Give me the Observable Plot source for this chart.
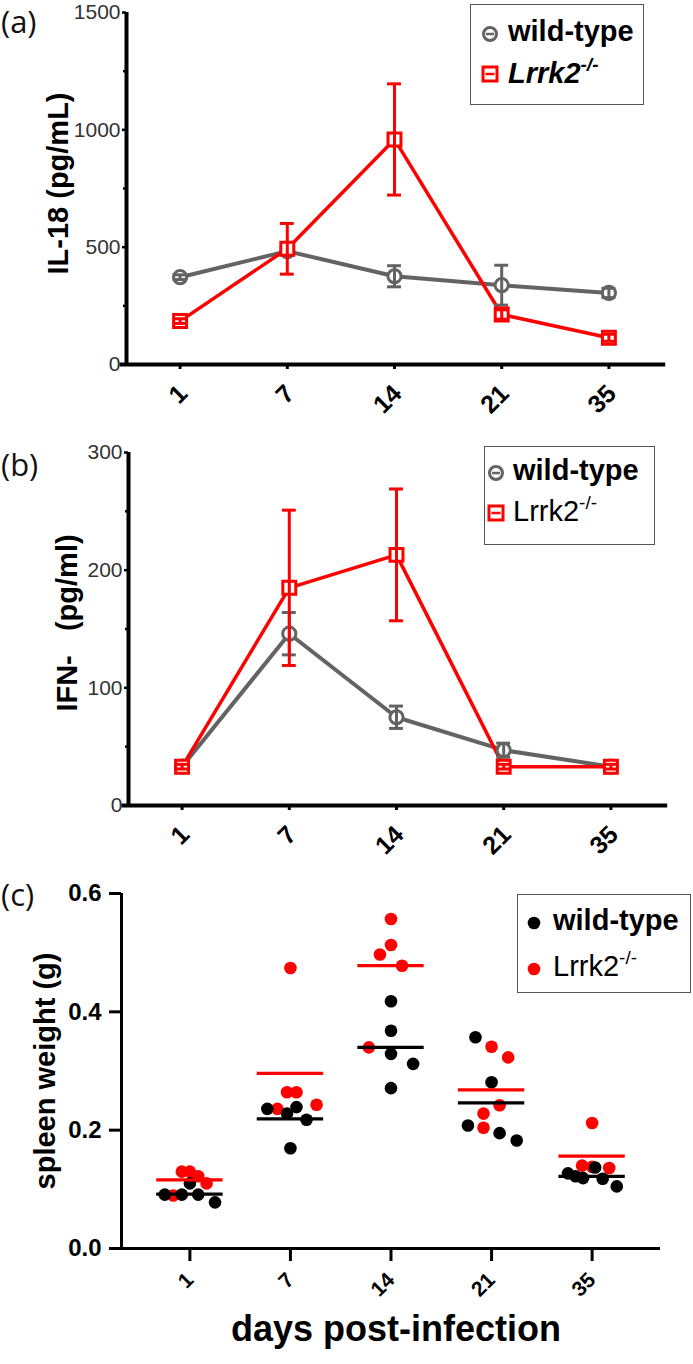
<!DOCTYPE html>
<html><head><meta charset="utf-8">
<script src="https://cdn.jsdelivr.net/npm/d3@7"></script>
<script src="https://cdn.jsdelivr.net/npm/@observablehq/plot@0.6"></script>
<style>
html,body{margin:0;padding:0;background:#fff;}
#wrap{position:relative;width:693px;height:1364px;overflow:hidden;font-family:"Liberation Sans",Arial,sans-serif;color:#000;}
.pl{position:absolute;left:0;}
.plabel{position:absolute;font-family:"Open Sans","Noto Sans",sans-serif;font-size:31px;line-height:normal;color:#111;}
.legend{position:absolute;border:1.5px solid #555;background:#fff;box-sizing:border-box;}
.mk{position:absolute;overflow:visible;}
.lt{position:absolute;white-space:nowrap;line-height:1;font-size:29px;}
.lt sup{font-size:19px;vertical-align:0;position:relative;top:-12px;}
</style>
</head><body>
<div id="wrap"></div>
<script>
const days = ["1", "7", "14", "21", "35"];
// (a) IL-18 (pg/mL): mean and error
const il18WT = [372, 483, 376, 338, 305];
const il18WTErr = [10, 15, 45, 85, 20];
const il18KO = [185, 493, 959, 213, 114];
const il18KOErr = [10, 108, 237, 20, 15];
// (b) IFN (pg/ml)
const ifnWT = [33, 146, 75, 47, 33];
const ifnWTErr = [2, 18, 9.5, 6, 2];
const ifnKO = [33, 185, 213, 33, 33];
const ifnKOErr = [2, 66, 56, 2, 2];
// (c) spleen weight (g), individual mice per day, with horizontal scatter (fraction of a day slot)
const spleenWT = [
  [0.091, 0.091, 0.110, 0.091, 0.078],
  [0.236, 0.228, 0.239, 0.2175, 0.1695],
  [0.418, 0.368, 0.329, 0.312, 0.271],
  [0.357, 0.281, 0.208, 0.195, 0.1825],
  [0.127, 0.122, 0.119, 0.137, 0.118, 0.105]
];
const spleenWTSpread = [
  [-0.25, -0.08, 0, 0.083, 0.25],
  [-0.23, -0.034, 0.06, 0.16, 0],
  [0, 0, 0, 0.22, 0],
  [-0.16, 0, -0.235, 0.08, 0.25],
  [-0.24, -0.165, -0.09, 0.03, 0.105, 0.245]
];
const spleenKO = [
  [0.0896, 0.130, 0.130, 0.122, 0.110],
  [0.474, 0.264, 0.264, 0.243, 0.236],
  [0.557, 0.513, 0.497, 0.478, 0.340],
  [0.341, 0.323, 0.242, 0.228, 0.204],
  [0.212, 0.140, 0.136, 0.138]
];
const spleenKOSpread = [
  [-0.165, -0.08, 0, 0.083, 0.166],
  [0, -0.034, 0.06, 0.26, -0.13],
  [0, 0, -0.11, 0.11, -0.22],
  [0, 0.165, 0.08, -0.08, -0.08],
  [0, -0.1, 0.17, 0.0]
];
const spleenWTMean = [0.092, 0.219, 0.340, 0.246, 0.122];
const spleenKOMean = [0.116, 0.296, 0.478, 0.268, 0.156];

const GRAY = "#636363", RED = "#ff0000";
const FONT = "Liberation Sans, Arial, sans-serif";
const idx = days.map((d, i) => i);
const ser = (v, e) => v.map((m, i) => ({i, v: m, lo: m - e[i], hi: m + e[i]}));
const caps = (s) => s.flatMap(d => [{i: d.i, y: d.lo}, {i: d.i, y: d.hi}]);

function linePanel(o) {
  const wt = ser(o.wt, o.wtErr), ko = ser(o.ko, o.koErr);
  return Plot.plot({
    width: 693, height: o.height,
    marginTop: o.mt, marginBottom: o.mb, marginLeft: o.ml, marginRight: o.mr,
    x: {type: "linear", domain: [-0.5, 4.5]},
    y: {domain: o.yDomain},
    style: {fontFamily: FONT, background: "transparent", overflow: "visible", color: "#000"},
    marks: [
      Plot.axisY({ticks: o.minor, tickFormat: () => "", tickSize: 3, strokeWidth: 2.5, label: null}),
      Plot.axisY({ticks: o.major, tickFormat: d => String(d), tickSize: 4, tickPadding: 2, strokeWidth: 2.5, fontSize: 21, fill: "#333", label: null}),
      Plot.axisX({ticks: idx, tickFormat: () => "", tickSize: 5, strokeWidth: 3, label: null}),
      Plot.axisX({ticks: idx, tickFormat: i => days[i], tickSize: 0, tickPadding: 25, tickRotate: -45, dx: 3, fontSize: 25, fontWeight: "bold", label: null}),
      Plot.ruleX([-0.5], {strokeWidth: 4, stroke: "#000"}),
      Plot.ruleY([o.yDomain[0]], {x1: () => -0.56, x2: () => 4.53, strokeWidth: 4, stroke: "#000"}),
      Plot.text([o.title], {text: d => d, frameAnchor: "left", textAnchor: "middle", rotate: -90, dx: o.tdx, dy: o.tdy, fontSize: 29, fontWeight: "bold", fill: "#000"}),
      Plot.line(wt, {x: "i", y: "v", stroke: GRAY, strokeWidth: 4}),
      Plot.line(ko, {x: "i", y: "v", stroke: RED, strokeWidth: 3.5}),
      Plot.dot(wt, {x: "i", y: "v", r: 6.6, stroke: GRAY, strokeWidth: 3, fill: "white"}),
      Plot.ruleX(wt, {x: "i", y1: "lo", y2: "hi", stroke: GRAY, strokeWidth: 3}),
      Plot.ruleY(caps(wt), {y: "y", x1: d => d.i - 0.065, x2: d => d.i + 0.065, stroke: GRAY, strokeWidth: 3}),
      Plot.dot(ko, {x: "i", y: "v", symbol: "square", r: 7.3, stroke: RED, strokeWidth: 3, fill: "white"}),
      Plot.ruleX(ko, {x: "i", y1: "lo", y2: "hi", stroke: RED, strokeWidth: 3}),
      Plot.ruleY(caps(ko), {y: "y", x1: d => d.i - 0.065, x2: d => d.i + 0.065, stroke: RED, strokeWidth: 3})
    ]
  });
}

const A = linePanel({height: 420, mt: 12, mb: 56, ml: 126, mr: 31, yDomain: [0, 1500],
  major: [0, 500, 1000, 1500], minor: [250, 750, 1250],
  wt: il18WT, wtErr: il18WTErr, ko: il18KO, koErr: il18KOErr,
  title: "IL-18 (pg/mL)", tdx: -68, tdy: -5});
const B = linePanel({height: 420, mt: 12, mb: 55, ml: 128, mr: 29, yDomain: [0, 300],
  major: [0, 100, 200, 300], minor: [50, 150, 250],
  wt: ifnWT, wtErr: ifnWTErr, ko: ifnKO, koErr: ifnKOErr,
  title: "IFN-\u00a0\u00a0\u00a0(pg/ml)", tdx: -61, tdy: -6});

// panel (c)
const pts = [];
spleenKO.forEach((arr, i) => arr.forEach((v, j) => pts.push({g: "ko", i, x: i + spleenKOSpread[i][j], v})));
spleenWT.forEach((arr, i) => arr.forEach((v, j) => pts.push({g: "wt", i, x: i + spleenWTSpread[i][j], v})));
const means = [
  ...spleenKOMean.map((v, i) => ({g: "ko", i, v})),
  ...spleenWTMean.map((v, i) => ({g: "wt", i, v}))
];
const C = Plot.plot({
  width: 693, height: 484, marginTop: 13, marginBottom: 116, marginLeft: 121, marginRight: 33,
  x: {type: "linear", domain: [-0.68, 4.68]},
  y: {domain: [0, 0.6]},
  style: {fontFamily: FONT, background: "transparent", overflow: "visible", color: "#000"},
  marks: [
    Plot.axisY({ticks: [0, 0.2, 0.4, 0.6], tickFormat: d => d.toFixed(1), tickSize: 12, tickPadding: 8, strokeWidth: 3, fontSize: 24, fontWeight: "bold", label: null}),
    Plot.axisX({ticks: idx, tickFormat: () => "", tickSize: 13, strokeWidth: 3, label: null}),
    Plot.axisX({ticks: idx, tickFormat: i => days[i], tickSize: 0, tickPadding: 28, tickRotate: -45, fontSize: 21, fontWeight: "bold", label: null}),
    Plot.ruleX([-0.68], {strokeWidth: 3, stroke: "#000"}),
    Plot.ruleY([0], {x1: () => -0.8, x2: () => 4.68, strokeWidth: 3, stroke: "#000"}),
    Plot.text(["spleen weight (g)"], {text: d => d, frameAnchor: "left", textAnchor: "middle", rotate: -90, dx: -76, fontSize: 29, fontWeight: "bold", fill: "#000"}),
    Plot.text(["days post-infection"], {text: d => d, frameAnchor: "bottom", textAnchor: "middle", dx: 5, dy: 92, fontSize: 36, fontWeight: "bold", fill: "#000"}),
    Plot.dot(pts, {x: "x", y: "v", r: 6.3, fill: d => d.g === "ko" ? RED : "#000", stroke: "none"}),
    Plot.ruleY(means, {y: "v", x1: d => d.i - 0.33, x2: d => d.i + 0.33, stroke: d => d.g === "ko" ? RED : "#000", strokeWidth: 3.2})
  ]
});

const wrap = document.getElementById("wrap");
[[A, 0], [B, 440], [C, 880]].forEach(([p, top]) => {
  p.classList.add("pl"); p.style.top = top + "px"; wrap.appendChild(p);
});

function circleMk(color) {
  return `<svg class="mk" width="20" height="20" viewBox="-10 -10 20 20"><circle r="6.5" fill="#fff" stroke="${color}" stroke-width="3"/><line x1="-4" x2="4" stroke="${color}" stroke-width="2.5"/></svg>`;
}
function squareMk(color) {
  return `<svg class="mk" width="20" height="20" viewBox="-10 -10 20 20"><rect x="-7" y="-7" width="14" height="14" fill="#fff" stroke="${color}" stroke-width="3"/><line x1="-4.5" x2="4.5" stroke="${color}" stroke-width="2.5"/></svg>`;
}
function dotMk(color) {
  return `<svg class="mk" width="20" height="20" viewBox="-10 -10 20 20"><circle r="6.3" fill="${color}"/></svg>`;
}
function place(html, x, y) { return html.replace('class="mk"', `class="mk" style="left:${x - 10}px;top:${y - 10}px"`); }

wrap.insertAdjacentHTML("beforeend", `
<div class="plabel" style="left:1px;top:0px">(a)</div>
<div class="plabel" style="left:1px;top:443px">(b)</div>
<div class="plabel" style="left:1px;top:873px">(c)</div>
<div class="legend" style="left:470px;top:4px;width:174px;height:101px">
  ${place(circleMk(GRAY), 19, 29)}
  <div class="lt" style="left:37px;top:12px;font-weight:bold">wild-type</div>
  ${place(squareMk(RED), 19, 69)}
  <div class="lt" style="left:37px;top:54px;font-weight:bold;font-style:italic">Lrrk2<sup>-/-</sup></div>
</div>
<div class="legend" style="left:484px;top:446px;width:171px;height:99px">
  ${place(circleMk(GRAY), 11, 26)}
  <div class="lt" style="left:28px;top:9px;font-weight:bold">wild-type</div>
  ${place(squareMk(RED), 11, 66)}
  <div class="lt" style="left:28px;top:50px">Lrrk2<sup>-/-</sup></div>
</div>
<div class="legend" style="left:517px;top:894px;width:174px;height:99px">
  ${place(dotMk("#000"), 16, 28)}
  <div class="lt" style="left:35px;top:11px;font-weight:bold">wild-type</div>
  ${place(dotMk(RED), 16, 74)}
  <div class="lt" style="left:35px;top:57px">Lrrk2<sup>-/-</sup></div>
</div>
`);
</script>
</body></html>
